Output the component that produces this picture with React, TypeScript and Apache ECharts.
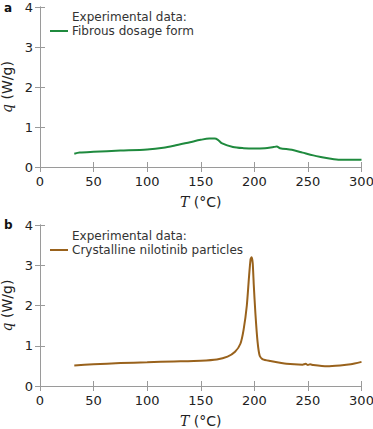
import React, { useEffect, useRef } from "react";
import * as echarts from "echarts";

const tempA = [32, 37, 50, 75, 100, 115, 125, 140, 150, 158, 163, 166, 170, 180, 190, 200, 210, 218, 221, 224, 235, 245, 255, 262, 270, 280, 290, 300];
const qA = [0.33, 0.36, 0.38, 0.41, 0.44, 0.48, 0.53, 0.62, 0.68, 0.71, 0.71, 0.68, 0.59, 0.50, 0.47, 0.46, 0.47, 0.50, 0.51, 0.47, 0.43, 0.36, 0.29, 0.25, 0.21, 0.18, 0.18, 0.18];

const tempB = [32, 50, 75, 100, 125, 150, 165, 175, 182, 187, 190, 193, 195, 196.5, 197.5, 198.5, 199.5, 201, 203, 205, 208, 215, 230, 245, 248, 250, 252, 255, 268, 280, 290, 300];
const qB = [0.51, 0.54, 0.57, 0.59, 0.61, 0.63, 0.66, 0.73, 0.85, 1.05, 1.4, 2.0, 2.7, 3.15, 3.2, 3.05, 2.5, 1.8, 1.1, 0.75, 0.66, 0.62, 0.55, 0.53, 0.55, 0.52, 0.54, 0.52, 0.49, 0.51, 0.54, 0.60];

const legendA = ["Experimental data:", "Fibrous dosage form"];
const legendB = ["Experimental data:", "Crystalline nilotinib particles"];

const GREEN = "#1f8a3e";
const BROWN = "#99621c";
const FRAME = "#9a9a9a";
const FONT = "'DejaVu Sans', sans-serif";

export default function App() {
  const ref = useRef<HTMLDivElement>(null);
  useEffect(() => {
    if (!ref.current) return;
    document.body.style.margin = "0";
    const chart = echarts.init(ref.current, undefined, { renderer: "svg" });
    const grids = [
      { left: 40, right: 11.5, top: 7, height: 160, containLabel: false, outerBoundsMode: "none" },
      { left: 40, right: 11.5, top: 225, height: 161, containLabel: false, outerBoundsMode: "none" },
    ];
    const xAxes: any[] = [];
    const yAxes: any[] = [];
    [0, 1].forEach((g) => {
      xAxes.push({
        gridIndex: g, type: "value", min: 0, max: 300, interval: 50, position: "bottom",
        axisLine: { show: true, lineStyle: { color: FRAME, width: 1 } },
        axisTick: { show: true, inside: true, length: 5, lineStyle: { color: FRAME } },
        axisLabel: { color: "#222", fontSize: 13, fontFamily: FONT, margin: 8 },
        splitLine: { show: false },
        name: "{i|T} (°C)", nameLocation: "middle", nameGap: 28,
        nameTextStyle: { color: "#222", fontSize: 14, fontFamily: FONT, rich: { i: { fontStyle: "italic", fontFamily: "'DejaVu Serif', serif", fontSize: 14, color: "#222" } } },
      });
      xAxes.push({
        gridIndex: g, type: "value", min: 0, max: 300, interval: 50, position: "top",
        axisLine: { show: true, lineStyle: { color: FRAME, width: 1 } },
        axisTick: { show: true, inside: true, length: 5, lineStyle: { color: FRAME } },
        axisLabel: { show: false }, splitLine: { show: false },
      });
      yAxes.push({
        gridIndex: g, type: "value", min: 0, max: 4, interval: 1, position: "left",
        axisLine: { show: true, lineStyle: { color: FRAME, width: 1 } },
        axisTick: { show: true, inside: true, length: 5, lineStyle: { color: FRAME } },
        axisLabel: { color: "#222", fontSize: 13, fontFamily: FONT, margin: 7 },
        splitLine: { show: false },
        name: "{i|q} (W/g)", nameLocation: "middle", nameGap: 22, nameRotate: 90,
        nameTextStyle: { color: "#222", fontSize: 14, fontFamily: FONT, rich: { i: { fontStyle: "italic", fontFamily: "'DejaVu Serif', serif", fontSize: 14, color: "#222" } } },
      });
      yAxes.push({
        gridIndex: g, type: "value", min: 0, max: 4, interval: 1, position: "right",
        axisLine: { show: true, lineStyle: { color: FRAME, width: 1 } },
        axisTick: { show: true, inside: true, length: 5, lineStyle: { color: FRAME } },
        axisLabel: { show: false }, splitLine: { show: false },
      });
    });
    const dataA = tempA.map((t, i) => [t, qA[i]]);
    const dataB = tempB.map((t, i) => [t, qB[i]]);
    const legendGraphic = (top: number, color: string, lines: string[]) => [
      { type: "line", shape: { x1: 50, y1: top + 7, x2: 68, y2: top + 7 }, style: { stroke: color, lineWidth: 2 } },
      { type: "text", x: 72, y: top, style: { text: lines.join("\n"), fill: "#333", font: `12px ${FONT}`, lineHeight: 14, textVerticalAlign: "middle" } },
    ];
    chart.setOption({
      animation: false,
      grid: grids,
      xAxis: xAxes,
      yAxis: yAxes,
      series: [
        { type: "line", xAxisIndex: 0, yAxisIndex: 0, data: dataA, smooth: 0.3, showSymbol: false, lineStyle: { color: GREEN, width: 2 } },
        { type: "line", xAxisIndex: 2, yAxisIndex: 2, data: dataB, smooth: 0.2, showSymbol: false, lineStyle: { color: BROWN, width: 2 } },
      ],
      graphic: [
        { type: "text", x: 4, y: 2, style: { text: "a", fill: "#111", font: `bold 12px ${FONT}` } },
        { type: "text", x: 4, y: 219, style: { text: "b", fill: "#111", font: `bold 12px ${FONT}` } },
        ...legendGraphic(24, GREEN, legendA),
        ...legendGraphic(243, BROWN, legendB),
      ],
    });
    return () => chart.dispose();
  }, []);
  return <div ref={ref} style={{ width: 373, height: 429 }} />;
}
